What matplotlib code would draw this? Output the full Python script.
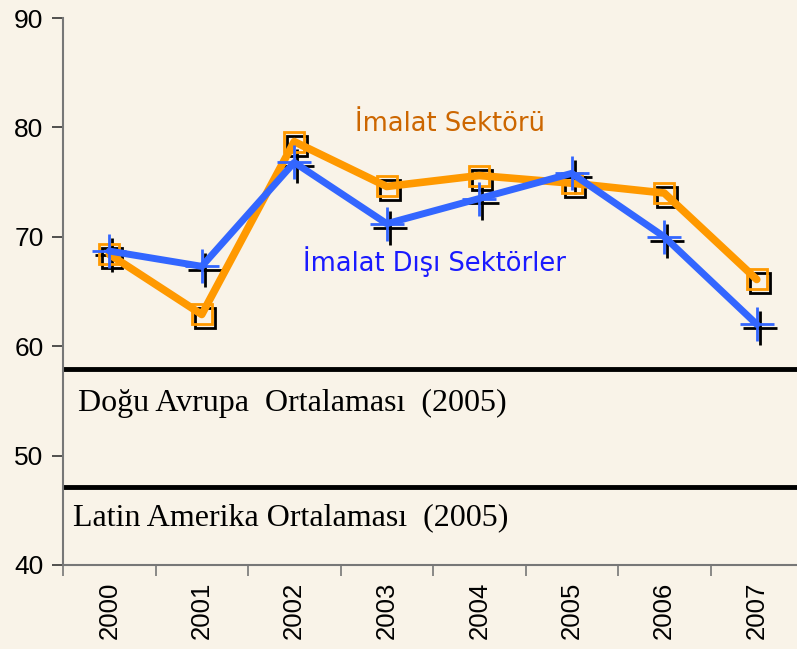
import matplotlib
matplotlib.use('Agg')
import matplotlib.pyplot as plt
from matplotlib.transforms import offset_copy

years = ['2000', '2001', '2002', '2003', '2004', '2005', '2006', '2007']
imalat = [68.4, 62.9, 78.7, 74.6, 75.6, 74.9, 74.0, 66.1]
imalat_disi = [68.7, 67.3, 76.8, 71.2, 73.5, 75.8, 70.0, 62.0]
dogu_avrupa = 57.9
latin_amerika = 47.1

bg = '#F9F3E8'
fig = plt.figure(figsize=(7.97, 6.49), dpi=100, facecolor=bg)
ax = fig.add_axes([63 / 797, 84 / 649, 740 / 797, 547 / 649], facecolor=bg)

x = list(range(len(years)))
shadow = offset_copy(ax.transData, fig=fig, x=3, y=-4, units='dots')

# black shadow markers
ax.plot(x, imalat, linestyle='none', marker='s', markersize=14, markerfacecolor='none',
		markeredgecolor='black', markeredgewidth=2, transform=shadow, zorder=2)
ax.plot(x, imalat_disi, linestyle='none', marker='+', markersize=24,
		markeredgecolor='black', markeredgewidth=2, transform=shadow, zorder=2)

ax.plot(x, imalat, color='#FF9900', linewidth=5.5, marker='s', markersize=14,
		markerfacecolor='none', markeredgecolor='#FF9900', markeredgewidth=2,
		solid_capstyle='round', zorder=3)
ax.plot(x, imalat_disi, color='#3366FF', linewidth=5, marker='+', markersize=24,
		markeredgecolor='#3366FF', markeredgewidth=2, solid_capstyle='round', zorder=4)

ax.axhline(dogu_avrupa, color='black', linewidth=3.5, zorder=1)
ax.axhline(latin_amerika, color='black', linewidth=3.5, zorder=1)

ax.text(-0.34, 54.8, 'Doğu Avrupa  Ortalaması  (2005)', family='Liberation Serif',
		fontsize=23, va='center', ha='left')
ax.text(-0.39, 44.3, 'Latin Amerika Ortalaması  (2005)', family='Liberation Serif',
		fontsize=23, va='center', ha='left')
ax.text(3.68, 80.3, 'İmalat Sektörü', color='#CC6600', fontsize=18.5, ha='center', va='center')
ax.text(3.52, 67.7, 'İmalat Dışı Sektörler', color='#1A1AFF', fontsize=18.5, ha='center', va='center')

ax.set_xlim(-0.5, 7.5)
ax.set_ylim(40, 90)
ax.set_yticks([40, 50, 60, 70, 80, 90])
ax.set_xticks([i - 0.5 for i in range(9)])
ax.set_xticklabels([])
ax.set_xticks(x, minor=True)
ax.set_xticklabels(years, minor=True, rotation=90, family='Liberation Sans', fontsize=18.5)
ax.tick_params(axis='x', which='minor', length=0, pad=12)
ax.tick_params(axis='x', which='major', length=8, color='#777777', width=1.2)
ax.tick_params(axis='y', length=8, color='#333333', width=1.2, pad=6)
for lab in ax.get_yticklabels():
	lab.set_family('Liberation Sans')
	lab.set_fontsize(19)

ax.spines['top'].set_visible(False)
ax.spines['right'].set_visible(False)
ax.spines['left'].set_color('#777777')
ax.spines['bottom'].set_color('#777777')
ax.spines['left'].set_linewidth(1.5)
ax.spines['bottom'].set_linewidth(1.5)

fig.savefig('out.png', dpi=100, facecolor=bg)
